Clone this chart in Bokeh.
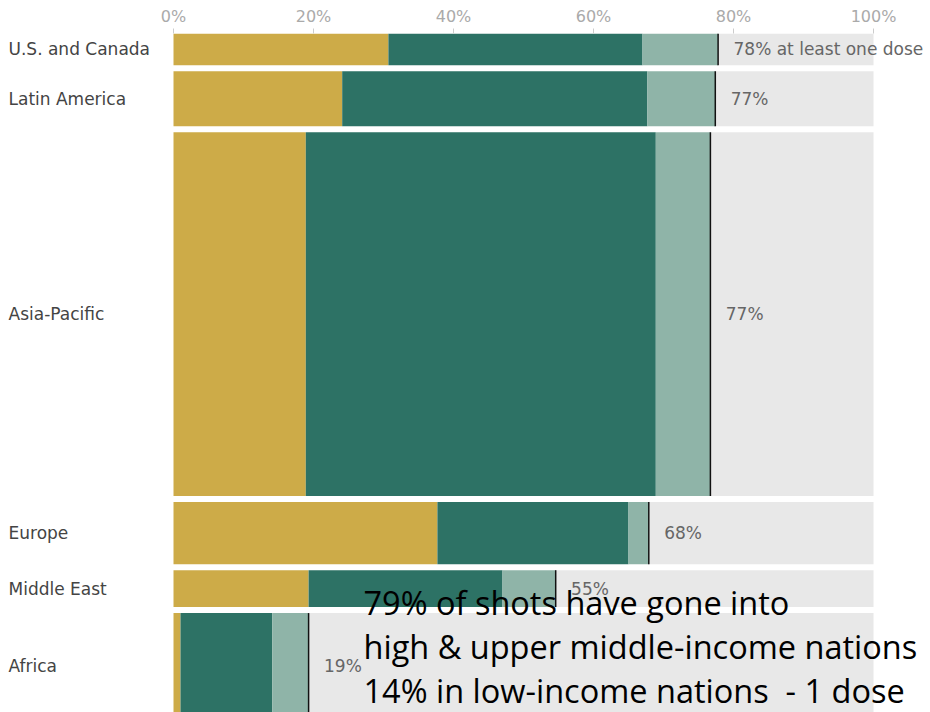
from bokeh.plotting import figure
from bokeh.models import Range1d, ColumnDataSource, FixedTicker, PrintfTickFormatter
from bokeh.core.properties import value
from bokeh.embed import file_html
from bokeh.resources import INLINE

# ---- data ----
regions = ["U.S. and Canada", "Latin America", "Asia-Pacific", "Europe", "Middle East", "Africa"]
population_m = [375, 650, 4290, 735, 435, 1250]          # bar height (millions)
boosted = [30.7, 24.1, 18.9, 37.7, 19.3, 1.0]            # % boosted
fully = [67.0, 67.7, 68.9, 65.0, 47.0, 14.1]             # % fully vaccinated (incl. boosted)
one_dose = [77.8, 77.4, 76.7, 67.9, 54.6, 19.3]          # % at least one dose
tick_values = [0, 20, 40, 60, 80, 100]
note_lines = ["79% of shots have gone into",
              "high & upper middle-income nations",
              "14% in low-income nations \u00a0- 1 dose"]

# ---- styling / layout constants ----
W, H = 930, 712
TOP = 33
PX_PER_PCT = 7.0
ZERO_PX = 173
M_PER_PX = 11.8
GAP = 6 * M_PER_PX
GOLD, DARK, LIGHT, GREY = "#CDAB48", "#2D7265", "#8FB4A8", "#E8E8E8"

tops, bots, mids = [], [], []
cur = 0.0
for pop in population_m:
    tops.append(cur)
    bots.append(cur + pop)
    mids.append(cur + pop / 2)
    cur += pop + GAP

src = ColumnDataSource(dict(
    region=regions, top=tops, bottom=bots, mid=mids,
    zero=[0] * len(regions), hundred=[100] * len(regions),
    boosted=boosted, fully=fully, one=one_dose,
    label_x=[v + 2.2 for v in one_dose],
    label=[f"{round(v)}% at least one dose" if i == 0 else f"{round(v)}%" for i, v in enumerate(one_dose)],
    name_x=[(8 - ZERO_PX) / PX_PER_PCT] * len(regions),
))

x0 = -ZERO_PX / PX_PER_PCT
x1 = (W - ZERO_PX) / PX_PER_PCT
y_total = (H - TOP) * M_PER_PX

p = figure(width=W, height=H, x_range=Range1d(x0, x1), y_range=Range1d(y_total, 0),
           x_axis_location="above", y_axis_location=None,
           toolbar_location=None, output_backend="svg",
           min_border_left=0, min_border_right=0, min_border_top=TOP, min_border_bottom=0)
p.outline_line_color = None
p.xgrid.grid_line_color = None
p.ygrid.grid_line_color = None

# bars
p.quad(left="one", right="hundred", top="top", bottom="bottom", source=src, color=GREY, line_color=None)
p.quad(left="zero", right="boosted", top="top", bottom="bottom", source=src, color=GOLD, line_color=None)
p.quad(left="boosted", right="fully", top="top", bottom="bottom", source=src, color=DARK, line_color=None)
p.quad(left="fully", right="one", top="top", bottom="bottom", source=src, color=LIGHT, line_color=None)
p.segment(x0="one", x1="one", y0="top", y1="bottom", source=src, line_color="#111111", line_width=1.5)

# labels
p.text(x="name_x", y="mid", text="region", source=src, text_font=value("DejaVu Sans"),
       text_font_size="17px", text_color="#444444", text_baseline="middle", text_align="left")
p.text(x="label_x", y="mid", text="label", source=src, text_font=value("DejaVu Sans"),
       text_font_size="17px", text_color="#666666", text_baseline="middle", text_align="left")

# axis
ax = p.xaxis[0]
ax.ticker = FixedTicker(ticks=tick_values)
ax.formatter = PrintfTickFormatter(format="%d%%")
ax.axis_line_color = None
ax.major_tick_line_color = "#cccccc"
ax.major_tick_out = 5
ax.major_tick_in = 0
ax.minor_tick_line_color = None
ax.major_label_standoff = 3
ax.major_label_text_font = "DejaVu Sans"
ax.major_label_text_font_size = "16px"
ax.major_label_text_color = "#aaaaaa"

# overlay note
note_x = [(363 - ZERO_PX) / PX_PER_PCT] * len(note_lines)
note_y = [(b - TOP) * M_PER_PX for b in (602, 646, 690)]
p.text(x=note_x, y=note_y, text=note_lines, text_font=value("Open Sans"),
       text_font_size="32.5px", text_color="#000000", text_baseline="alphabetic", text_align="left")

open("out.html", "w").write(file_html(p, INLINE))
